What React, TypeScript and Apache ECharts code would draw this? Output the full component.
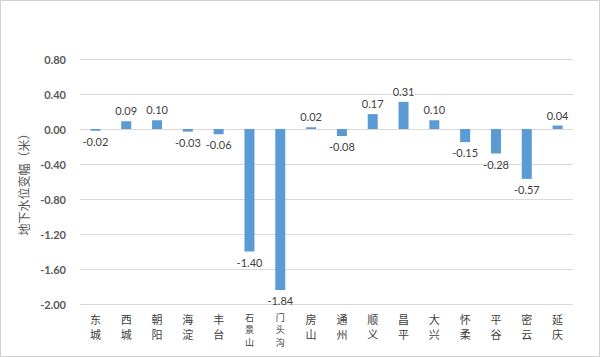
import React, { useEffect, useRef } from "react";
import * as echarts from "echarts";

const categories = ["东城", "西城", "朝阳", "海淀", "丰台", "石景山", "门头沟", "房山", "通州", "顺义", "昌平", "大兴", "怀柔", "平谷", "密云", "延庆"];
const values = [-0.02, 0.09, 0.1, -0.03, -0.06, -1.4, -1.84, 0.02, -0.08, 0.17, 0.31, 0.1, -0.15, -0.28, -0.57, 0.04];
const yAxisName = "地下水位变幅（米）";

export default function App() {
  const ref = useRef<HTMLDivElement>(null);
  useEffect(() => {
    if (!ref.current) return;
    const chart = echarts.init(ref.current, null, { renderer: "svg" });
    chart.setOption({
      animation: false,
      backgroundColor: "#ffffff",
      graphic: [
        {
          type: "rect",
          shape: { x: 0.5, y: 0.5, width: 599, height: 356 },
          style: { fill: "none", stroke: "#d0d0d0", lineWidth: 1 },
          silent: true,
        },
      ],
      grid: { left: 80, right: 27, top: 59, bottom: 53 },
      xAxis: {
        type: "category",
        data: categories.map((c) =>
          c.length > 2
            ? { value: c, textStyle: { fontSize: 9, lineHeight: 12.4 } }
            : { value: c, textStyle: { fontSize: 11, lineHeight: 15.2 } }
        ),
        position: "bottom",
        axisLine: { show: false },
        axisTick: { show: false },
        axisLabel: {
          interval: 0,
          margin: 7,
          fontFamily: "Noto Sans CJK SC",
          fontSize: 11,
          lineHeight: 15.2,
          color: "#404040",
          verticalAlign: "top",
          formatter: (v: string) => v.split("").join("\n"),
        },
      },
      yAxis: {
        type: "value",
        min: -2,
        max: 0.8,
        interval: 0.4,
        name: yAxisName,
        nameLocation: "middle",
        nameGap: 48,
        nameRotate: 90,
        nameTextStyle: { fontFamily: "Noto Sans CJK SC", fontSize: 12, color: "#595959" },
        axisLine: { show: false },
        axisTick: { show: false },
        splitLine: { lineStyle: { color: "#d9d9d9", width: 1 } },
        axisLabel: {
          margin: 14,
          fontFamily: "Lato",
          fontWeight: "bold",
          fontSize: 11,
          color: "#595959",
          formatter: (v: number) => v.toFixed(2),
        },
      },
      series: [
        {
          type: "bar",
          data: values.map((v) => ({
            value: v,
            label: { position: v >= 0 ? "top" : "bottom" },
          })),
          barWidth: 10,
          itemStyle: { color: "#5B9BD5" },
          label: {
            show: true,
            distance: 5,
            fontFamily: "Lato",
            fontSize: 11,
            color: "#404040",
            formatter: (p: any) => Number(p.value).toFixed(2),
          },
        },
      ],
    });
    return () => chart.dispose();
  }, []);
  return (
    <div
      ref={ref}
      style={{ position: "fixed", left: 0, top: 0, width: 600, height: 357 }}
    />
  );
}
